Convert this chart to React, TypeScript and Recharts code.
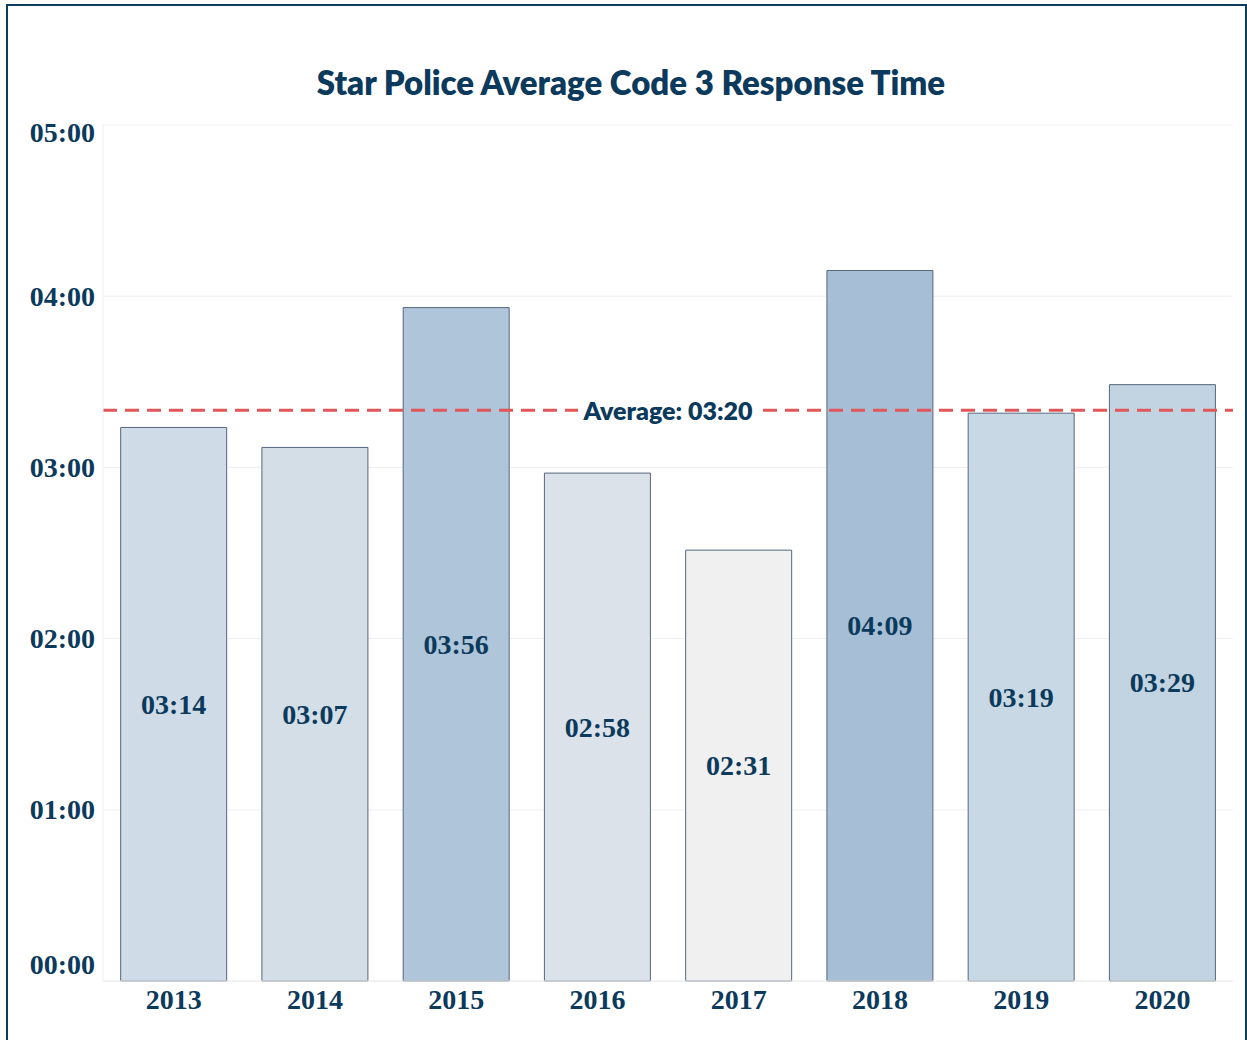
import React from 'react';
import { BarChart, Bar, XAxis, YAxis, CartesianGrid, ReferenceLine, LabelList, Cell } from 'recharts';

const years = ['2013', '2014', '2015', '2016', '2017', '2018', '2019', '2020'];
const responseSeconds = [194, 187, 236, 178, 151, 249, 199, 209];
const averageSeconds = 200;
const yTicks = [0, 60, 120, 180, 240, 300];
const barColors = ['#cfdce7', '#d3dee7', '#aec5da', '#dbe2ea', '#f0f0f0', '#a6bfd6', '#c9d8e5', '#c2d3e1'];

const data = years.map((year, i) => ({ year, value: responseSeconds[i] }));

const NAVY = '#0b3a5c';
const SERIF = '"Liberation Serif", "DejaVu Serif", serif';
const SANS = 'Lato, "Open Sans", sans-serif';

const fmt = (s: number) => {
  const m = Math.floor(s / 60);
  const sec = Math.round(s - m * 60);
  return `${String(m).padStart(2, '0')}:${String(sec).padStart(2, '0')}`;
};

const YTick = (props: any) => {
  const { x, y, payload } = props;
  let dy = 0;
  if (payload.value === 300) dy = 7;
  if (payload.value === 0) dy = -17;
  return (
    <text x={x} y={y + dy} textAnchor="end" dominantBaseline="central" fill={NAVY}
      style={{ fontFamily: SERIF, fontWeight: 700, fontSize: 28 }}>
      {fmt(payload.value)}
    </text>
  );
};

const XTick = (props: any) => {
  const { x, y, payload } = props;
  return (
    <text x={x} y={y + 20} textAnchor="middle" fill={NAVY}
      style={{ fontFamily: SERIF, fontWeight: 700, fontSize: 28 }}>
      {payload.value}
    </text>
  );
};

const BarLabel = (props: any) => {
  const { x, y, width, height, value } = props;
  return (
    <text x={x + width / 2} y={y + height / 2} textAnchor="middle" dominantBaseline="central" fill={NAVY}
      style={{ fontFamily: SERIF, fontWeight: 700, fontSize: 28 }}>
      {fmt(value)}
    </text>
  );
};

const AvgLabel = (props: any) => {
  const vb = props.viewBox || {};
  const cx = vb.x + vb.width / 2;
  const cy = vb.y;
  return (
    <g>
      <rect x={cx - 90} y={cy - 15} width={180} height={30} fill="#ffffff" />
      <text x={cx} y={cy} textAnchor="middle" dominantBaseline="central" fill={NAVY}
        style={{ fontFamily: SANS, fontWeight: 800, fontSize: 25 }}>
        {`Average: ${fmt(averageSeconds)}`}
      </text>
    </g>
  );
};

export default function App() {
  return (
    <div style={{ position: 'absolute', left: 0, top: 0, width: 1247, height: 1040, overflow: 'hidden', background: '#ffffff' }}>
      <div style={{ position: 'absolute', left: 6, top: 4, width: 1237, height: 1100, border: '2px solid #0b3d5c' }} />
      <div style={{ position: 'absolute', left: 0, top: 63, width: 1262, textAlign: 'center', fontFamily: SANS, fontWeight: 800, fontSize: 33, lineHeight: '38px', color: NAVY }}>
        Star Police Average Code 3 Response Time
      </div>
      <div style={{ position: 'absolute', left: 0, top: 0 }}>
        <BarChart width={1247} height={1040} data={data} margin={{ top: 125, right: 14, bottom: 29, left: 0 }} barCategoryGap="12.5%">
          <CartesianGrid vertical={false} stroke="#efefef" />
          <XAxis dataKey="year" height={30} axisLine={{ stroke: '#ececec' }} tickLine={false} tick={<XTick />} interval={0} />
          <YAxis width={103} domain={[0, 300]} ticks={yTicks} axisLine={{ stroke: '#efefef' }} tickLine={false} tick={<YTick />} interval={0} />
          <Bar dataKey="value" stroke="#56677d" strokeWidth={1} isAnimationActive={false}>
            {data.map((d, i) => (
              <Cell key={d.year} fill={barColors[i]} />
            ))}
            <LabelList dataKey="value" content={<BarLabel />} />
          </Bar>
          <ReferenceLine y={averageSeconds} stroke="#e15759" strokeWidth={3} strokeDasharray="14 8" label={<AvgLabel />} ifOverflow="extendDomain" />
        </BarChart>
      </div>
    </div>
  );
}
